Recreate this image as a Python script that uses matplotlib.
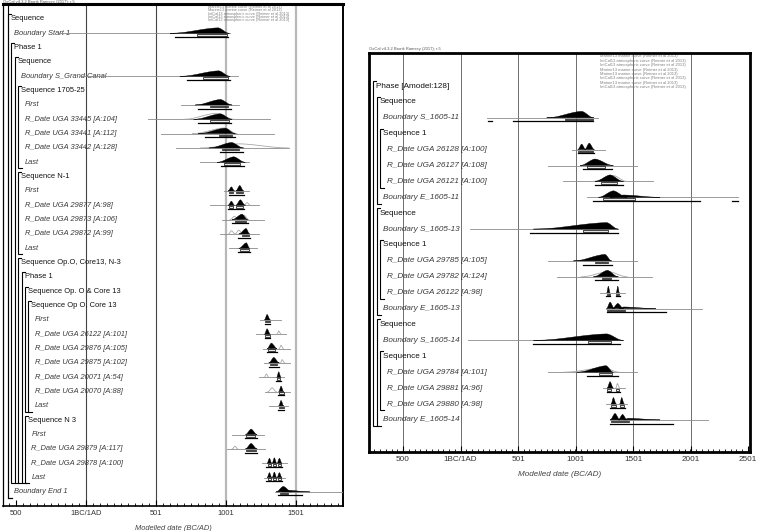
import numpy as np
import matplotlib
matplotlib.use("Agg")
import matplotlib.pyplot as plt
from matplotlib.patches import Rectangle
from matplotlib.ticker import MultipleLocator

plt.rcParams["font.family"] = ["Liberation Sans", "DejaVu Sans"]

# ---------------------------------------------------------------- data: left
L_LABELS = [
    "Sequence", "Boundary Start 1", "Phase 1", "Sequence", "Boundary S_Grand Canal",
    "Sequence 1705-25", "First", "R_Date UGA 33445 [A:104]", "R_Date UGA 33441 [A:112]",
    "R_Date UGA 33442 [A:128]", "Last",
    "Sequence N-1", "First", "R_Date UGA 29877 [A:98]", "R_Date UGA 29873 [A:106]",
    "R_Date UGA 29872 [A:99]", "Last",
    "Sequence Op.O, Core13, N-3", "Phase 1", "Sequence Op. O & Core 13", "Sequence Op O, Core 13",
    "First", "R_Date UGA 26122 [A:101]", "R_Date UGA 29876 [A:105]", "R_Date UGA 29875 [A:102]",
    "R_Date UGA 20071 [A:54]", "R_Date UGA 20070 [A:88]", "Last",
    "Sequence N 3", "First", "R_Date UGA 29879 [A:117]", "R_Date UGA 29878 [A:100]", "Last",
    "Boundary End 1",
]
L_DEPTH = [0, 1, 1, 2, 3, 3, 4, 4, 4, 4, 4, 3, 4, 4, 4, 4, 4,
           3, 4, 5, 6, 7, 7, 7, 7, 7, 7, 7, 5, 6, 6, 6, 6, 1]
# header row -> last row of its group
L_GROUPS = {0: 33, 2: 32, 3: 32, 5: 10, 11: 16, 17: 32, 18: 32, 19: 27, 20: 27, 28: 32}

L_SPAN = {
    1: (-190, 1029), 4: (-40, 1084), 6: (679, 1096), 7: (443, 1314), 8: (536, 1343),
    9: (643, 1450), 10: (818, 1163), 12: (984, 1163), 13: (889, 1234), 14: (972, 1270),
    15: (961, 1234), 16: (1020, 1223), 21: (1242, 1394), 22: (1218, 1427), 23: (1265, 1456),
    24: (1270, 1461), 25: (1237, 1418), 26: (1277, 1461), 27: (1306, 1442), 29: (1044, 1270),
    30: (1008, 1282), 31: (1258, 1437), 32: (1270, 1425), 33: (1354, 1900),
}
# posterior humps: (start, peak, end, relative height)
L_POST = {
    1: [(600, 945, 1025, 1.0)],
    4: [(671, 949, 1030, 1.0)],
    6: [(780, 961, 1044, 1.0)],
    7: [(770, 961, 1044, 1.0)],
    8: [(800, 996, 1068, 1.0)],
    9: [(880, 1041, 1127, 1.0)],
    10: [(937, 1056, 1139, 1.0)],
    12: [(1015, 1039, 1062, 0.75), (1070, 1099, 1127, 1.0)],
    13: [(1015, 1039, 1062, 0.75), (1070, 1103, 1139, 1.0)],
    14: [(1044, 1115, 1156, 1.0)],
    15: [(1092, 1144, 1170, 1.0)],
    16: [(1092, 1146, 1170, 1.0)],
    21: [(1275, 1294, 1318, 1.0)],
    22: [(1275, 1294, 1318, 1.0)],
    23: [(1294, 1325, 1365, 1.0)],
    24: [(1306, 1342, 1382, 1.0)],
    25: [(1363, 1377, 1394, 1.0)],
    26: [(1377, 1394, 1413, 1.0)],
    27: [(1377, 1394, 1413, 1.0)],
    29: [(1139, 1180, 1223, 1.0)],
    30: [(1139, 1180, 1223, 1.0)],
    31: [(1294, 1311, 1328, 0.9), (1330, 1346, 1363, 1.0), (1365, 1382, 1401, 0.9)],
    32: [(1294, 1311, 1328, 0.9), (1330, 1346, 1363, 1.0), (1365, 1382, 1401, 0.9)],
    33: [(1358, 1410, 1470, 1.0), (1400, 1440, 1600, 0.3)],
}
# unmodelled likelihoods (grey outline)
L_LIKE = {
    7: [(700, 930, 1060, 1.1)],
    8: [(760, 990, 1080, 1.05)],
    9: [(818, 1100, 1449, 0.75)],
    13: [(1130, 1151, 1175, 0.5)],
    14: [(1030, 1060, 1090, 0.6), (1090, 1130, 1163, 0.8)],
    15: [(1020, 1039, 1065, 0.6), (1065, 1092, 1120, 0.7)],
    22: [(1365, 1377, 1395, 0.6)],
    23: [(1320, 1342, 1360, 0.6), (1380, 1394, 1410, 0.6)],
    24: [(1390, 1401, 1420, 0.6)],
    25: [(1275, 1289, 1306, 0.6)],
    26: [(1300, 1330, 1360, 0.7)],
    30: [(1045, 1065, 1085, 0.5)],
}
L_R68 = {
    1: [(793, 1007)], 4: [(836, 1014)], 6: [(884, 1013)], 7: [(889, 1020)], 8: [(949, 1044)],
    9: [(972, 1092)], 10: [(984, 1103)], 12: [(1020, 1051), (1075, 1122)],
    13: [(1020, 1051), (1075, 1125)], 14: [(1068, 1146)], 15: [(1115, 1163)], 16: [(1103, 1163)],
    21: [(1280, 1313)], 22: [(1280, 1313)], 23: [(1299, 1354)], 24: [(1318, 1365)],
    25: [(1363, 1389)], 26: [(1377, 1413)], 27: [(1377, 1413)], 29: [(1146, 1211)],
    30: [(1146, 1218)], 31: [(1299, 1320), (1335, 1356), (1370, 1394)],
    32: [(1299, 1320), (1335, 1356), (1370, 1394)], 33: [(1386, 1443)],
}
L_R95 = {
    1: [(636, 1014)], 4: [(721, 1030)], 6: [(801, 1039)], 7: [(801, 1039)], 8: [(853, 1068)],
    9: [(961, 1122)], 10: [(965, 1127)], 12: [(1020, 1127)], 13: [(1015, 1130)],
    14: [(1044, 1156)], 15: [(1084, 1170)], 16: [(1084, 1170)], 21: [(1277, 1318)],
    22: [(1277, 1318)], 23: [(1294, 1365)], 24: [(1306, 1377)], 25: [(1358, 1394)],
    26: [(1373, 1413)], 27: [(1373, 1413)], 29: [(1139, 1223)], 30: [(1139, 1223)],
    31: [(1289, 1401)], 32: [(1289, 1401)], 33: [(1372, 1543)],
}
L_CURVES = [
    "Marine13 marine curve (Reimer et al 2013)",
    "Marine13 marine curve (Reimer et al 2013)",
    "IntCal13 atmospheric curve (Reimer et al 2013)",
    "IntCal13 atmospheric curve (Reimer et al 2013)",
    "IntCal13 atmospheric curve (Reimer et al 2013)",
]

# --------------------------------------------------------------- data: right
R_LABELS = [
    "Phase [Amodel:128]", "Sequence", "Boundary S_1605-11", "Sequence 1",
    "R_Date UGA 26128 [A:100]", "R_Date UGA 26127 [A:108]", "R_Date UGA 26121 [A:100]",
    "Boundary E_1605-11",
    "Sequence", "Boundary S_1605-13", "Sequence 1", "R_Date UGA 29785 [A:105]",
    "R_Date UGA 29782 [A:124]", "R_Date UGA 26122 [A:98]", "Boundary E_1605-13",
    "Sequence", "Boundary S_1605-14", "Sequence 1", "R_Date UGA 29784 [A:101]",
    "R_Date UGA 29881 [A:96]", "R_Date UGA 29880 [A:98]", "Boundary E_1605-14",
]
R_DEPTH = [0, 1, 2, 2, 3, 3, 3, 2, 1, 2, 2, 3, 3, 3, 2, 1, 2, 2, 3, 3, 3, 2]
R_GROUPS = {0: 21, 1: 7, 3: 6, 8: 14, 10: 13, 15: 21, 17: 20}

R_SPAN = {
    2: (228, 1199), 4: (967, 1257), 5: (764, 1533), 6: (895, 1678), 7: (1098, 2417),
    9: (83, 1373), 11: (764, 1533), 12: (837, 1663), 13: (1214, 1431), 14: (1263, 2099),
    16: (68, 1417), 18: (764, 1539), 19: (1243, 1431), 20: (1266, 1452), 21: (1301, 2157),
}
R_POST = {
    2: [(750, 1054, 1160, 1.0)],
    4: [(1020, 1054, 1090, 0.85), (1080, 1120, 1165, 1.0)],
    5: [(1040, 1170, 1330, 1.0)],
    6: [(1170, 1301, 1417, 1.0)],
    7: [(1199, 1330, 1450, 1.0), (1300, 1420, 1736, 0.35)],
    9: [(634, 1272, 1373, 1.0)],
    11: [(982, 1257, 1315, 1.0)],
    12: [(1156, 1278, 1373, 1.0)],
    13: [(1272, 1286, 1301, 1.0), (1355, 1368, 1382, 1.0)],
    14: [(1270, 1301, 1340, 1.0), (1320, 1368, 1420, 0.8), (1380, 1420, 1700, 0.25)],
    16: [(634, 1272, 1417, 1.0)],
    18: [(1011, 1266, 1330, 1.0)],
    19: [(1275, 1301, 1330, 1.0)],
    20: [(1310, 1330, 1355, 1.0), (1385, 1402, 1425, 1.0)],
    21: [(1301, 1344, 1388, 1.0), (1370, 1410, 1450, 0.85), (1420, 1460, 1736, 0.25)],
}
R_LIKE = {
    6: [(1150, 1330, 1446, 0.9)],
    12: [(1050, 1290, 1450, 0.8)],
    18: [(900, 1250, 1380, 0.7)],
    19: [(1350, 1365, 1385, 0.7)],
}
R_R68 = {
    2: [(909, 1156)], 4: [(1025, 1156)], 5: [(1098, 1257)], 6: [(1220, 1359)],
    7: [(1237, 1518)], 9: [(1069, 1286)], 11: [(1170, 1286)], 12: [(1228, 1307)],
    13: [(1275, 1298), (1357, 1380)], 14: [(1272, 1431)], 16: [(1106, 1310)],
    18: [(1208, 1315)], 19: [(1278, 1310), (1350, 1382)], 20: [(1310, 1350), (1385, 1420)],
    21: [(1307, 1469)],
}
R_R95 = {
    2: [(242, 271), (460, 1156)], 4: [(1025, 1160)], 5: [(1069, 1315)], 6: [(1170, 1417)],
    7: [(1156, 2084), (2359, 2417)], 9: [(605, 1373)], 11: [(1063, 1315)], 12: [(1170, 1373)],
    13: [(1270, 1301), (1353, 1385)], 14: [(1272, 1788)], 16: [(628, 1388)],
    18: [(1098, 1373)], 19: [(1272, 1388)], 20: [(1301, 1431)], 21: [(1301, 1852)],
}
R_CURVES = [
    "Marine13 marine curve (Reimer et al 2013)",
    "IntCal13 atmospheric curve (Reimer et al 2013)",
    "IntCal13 atmospheric curve (Reimer et al 2013)",
    "Marine13 marine curve (Reimer et al 2013)",
    "Marine13 marine curve (Reimer et al 2013)",
    "IntCal13 atmospheric curve (Reimer et al 2013)",
    "Marine13 marine curve (Reimer et al 2013)",
    "IntCal13 atmospheric curve (Reimer et al 2013)",
]

TICK_POS = [-500, 0, 501, 1001, 1501, 2001, 2501]
TICK_LAB = ["500", "1BC/1AD", "501", "1001", "1501", "2001", "2501"]
HEADER = "OxCal v4.3.2 Bronk Ramsey (2017); r:5"

# hump glyph: rising half (fraction of way to peak -> fraction of height), mirrored after the peak
T_PROF = np.array([0, .15, .3, .45, .6, .75, .9, 1.0])
H_PROF = np.array([0, .05, .18, .38, .6, .8, .95, 1.0])

W, H = 757, 531


def hump_xy(lo, pk, hi, h, base, hpx):
    x_up = lo + T_PROF * (pk - lo)
    x_dn = hi - T_PROF[::-1][1:] * (hi - pk)
    xs = np.concatenate([x_up, x_dn])
    ys = np.concatenate([H_PROF, H_PROF[::-1][1:]]) * h
    return xs, base - ys * hpx


def draw_panel(ax, *, px_left, px_right, px_top, px_bottom, yr_left, yr_per_px,
               labels, depth, groups, span, post, like, r68, r95,
               y0, dy, tx0, tdx, hpx, fs, ticks, curves, curve_xy, curve_dy, curve_fs,
               grid_style):
    ax.set_xlim(yr_left, yr_left + (px_right - px_left) * yr_per_px)
    ax.set_ylim(px_bottom, px_top)

    def yr(px):
        return yr_left + (px - px_left) * yr_per_px

    # ---- grid lines
    for t, (c, lw) in grid_style.items():
        ax.axvline(t, color=c, lw=lw, zorder=1)

    rows_y = [y0 + i * dy for i in range(len(labels))]

    # ---- labels
    for i, lab in enumerate(labels):
        is_head = i in groups
        ax.text(yr(tx0 + tdx * depth[i]), rows_y[i], lab, fontsize=fs,
                style="normal" if is_head else "italic",
                color="#111111" if is_head else "#3a3a3a",
                va="center", ha="left", zorder=2)

    # ---- brackets
    for i, e in groups.items():
        vx = tx0 + tdx * depth[i] - 3
        top = rows_y[i] - dy * 0.32
        bot = rows_y[e] + dy * 0.4
        ax.plot([yr(vx + 3), yr(vx), yr(vx), yr(vx + 4)], [top, top, bot, bot],
                color="black", lw=0.8, zorder=3, solid_joinstyle="miter")

    # ---- distributions
    for i, (lo, hi) in span.items():
        ax.plot([lo, hi], [rows_y[i], rows_y[i]], color="#8a8a8a", lw=0.6, zorder=4)
    for i, hs in like.items():
        for lo, pk, hi, h in hs:
            xs, ys = hump_xy(lo, pk, hi, h, rows_y[i], hpx)
            ax.plot(xs, ys, color="#a8a8a8", lw=0.6, zorder=5)
    for i, hs in post.items():
        for lo, pk, hi, h in hs:
            xs, ys = hump_xy(lo, pk, hi, h, rows_y[i], hpx)
            ax.fill(xs, ys, color="black", lw=0.3, zorder=6)
    for i, segs in r68.items():
        for lo, hi in segs:
            ax.add_patch(Rectangle((lo, rows_y[i] + 0.9), hi - lo, 1.6, facecolor="#e6e6e6",
                                   edgecolor="black", lw=0.5, zorder=7))
    for i, segs in r95.items():
        for lo, hi in segs:
            ax.plot([lo, hi], [rows_y[i] + 3.6, rows_y[i] + 3.6], color="black", lw=0.9, zorder=7)

    # ---- calibration curve notes
    for k, s in enumerate(curves):
        ax.text(yr(curve_xy[0]), curve_xy[1] + k * curve_dy, s, fontsize=curve_fs,
                color="#808080", va="center", ha="left", zorder=2)

    ax.set_xticks(ticks)
    ax.set_xticklabels(TICK_LAB[:len(ticks)])
    ax.xaxis.set_minor_locator(MultipleLocator(50))
    ax.tick_params(axis="x", which="major", direction="in", length=4, width=0.8,
                   labelsize=fs, labelcolor="#333333", pad=3)
    ax.tick_params(axis="x", which="minor", direction="in", length=2, width=0.6)
    ax.set_yticks([])
    ax.set_xlabel("Modelled date (BC/AD)", fontsize=fs, style="italic", color="#444444", labelpad=6)


fig = plt.figure(figsize=(W / 100, H / 100), dpi=100)

# ---- left panel
axL = fig.add_axes([3 / W, (H - 506) / H, 340 / W, 502 / H])
draw_panel(
    axL, px_left=3, px_right=343, px_top=4, px_bottom=506,
    yr_left=-593, yr_per_px=7.146,
    labels=L_LABELS, depth=L_DEPTH, groups=L_GROUPS, span=L_SPAN, post=L_POST,
    like=L_LIKE, r68=L_R68, r95=L_R95,
    y0=19, dy=14.33, tx0=11, tdx=3.4, hpx=5.5, fs=5.4,
    ticks=TICK_POS[:5], curves=L_CURVES, curve_xy=(208, 6.8), curve_dy=3.4, curve_fs=2.8,
    grid_style={0: ("#444444", 0.8), 501: ("#444444", 0.8),
                1001: ("#b8b8b8", 1.6), 1501: ("#b8b8b8", 1.6)},
)
# outermost plot bracket
axL.plot([-593 + 4.7 * 7.146] * 2, [5, 498], color="black", lw=0.8)
axL.plot([-593 + 4.7 * 7.146, -593 + 9 * 7.146], [498, 498], color="black", lw=0.8)
for side, lw in [("top", 2.2), ("right", 1.4), ("left", 0.9), ("bottom", 1.2)]:
    axL.spines[side].set_linewidth(lw)
fig.text(3 / W, 1 - 2 / H, HEADER, fontsize=3, color="#555555", va="center", ha="left")

# ---- right panel
axR = fig.add_axes([369 / W, (H - 452) / H, 381 / W, 399 / H])
draw_panel(
    axR, px_left=369, px_right=750, px_top=53, px_bottom=452,
    yr_left=-796, yr_per_px=8.699,
    labels=R_LABELS, depth=R_DEPTH, groups=R_GROUPS, span=R_SPAN, post=R_POST,
    like=R_LIKE, r68=R_R68, r95=R_R95,
    y0=86, dy=15.9, tx0=376, tdx=3.7, hpx=6.5, fs=5.9,
    ticks=TICK_POS, curves=R_CURVES, curve_xy=(600, 56.5), curve_dy=4.4, curve_fs=3.0,
    grid_style={t: ("#6e6e6e", 0.7) for t in TICK_POS[:6]},
)
for side in ["top", "right", "left", "bottom"]:
    axR.spines[side].set_linewidth(2.0)
fig.text(369 / W, 1 - 49 / H, HEADER, fontsize=3, color="#555555", va="center", ha="left")

fig.savefig("out.png", dpi=100)
